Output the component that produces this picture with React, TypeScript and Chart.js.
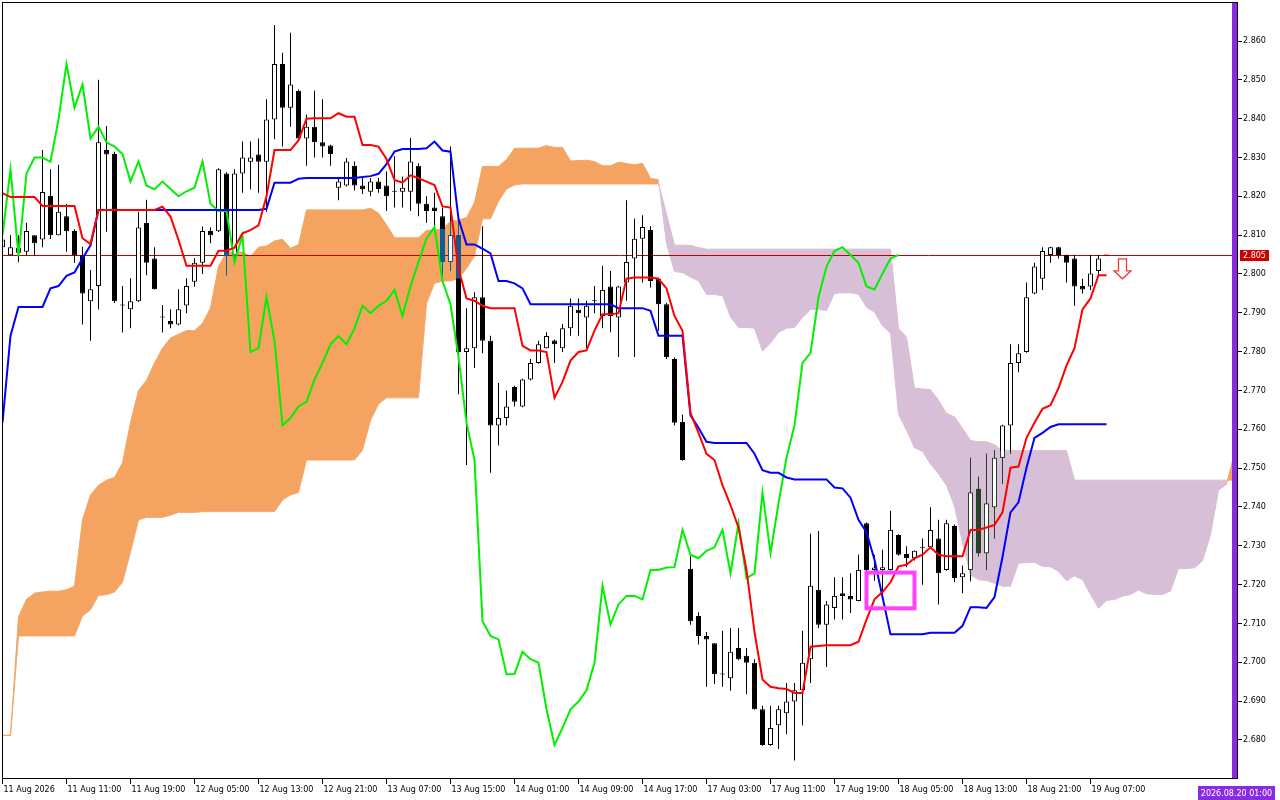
import React, { useEffect, useRef } from 'react';
import { Chart, registerables } from 'chart.js';

Chart.register(...registerables);

// ---- time axis (one label every 8 hourly bars) ----
const tickLabels = [
  '11 Aug 2026', '11 Aug 11:00', '11 Aug 19:00', '12 Aug 05:00', '12 Aug 13:00', '12 Aug 21:00',
  '13 Aug 07:00', '13 Aug 15:00', '14 Aug 01:00', '14 Aug 09:00', '14 Aug 17:00', '17 Aug 03:00',
  '17 Aug 11:00', '17 Aug 19:00', '18 Aug 05:00', '18 Aug 13:00', '18 Aug 21:00', '19 Aug 07:00',
];
const TICK_STEP = 8;
const priceTicks = [2.68, 2.69, 2.70, 2.71, 2.72, 2.73, 2.74, 2.75, 2.76, 2.77, 2.78, 2.79, 2.80, 2.81, 2.82, 2.83, 2.84, 2.85, 2.86];

// ---- candles ----
const opens = [
  2.8069, 2.8048, 2.8067, 2.8057, 2.8100, 2.8089, 2.8201, 2.8100, 2.8149, 2.8111,
  2.8048, 2.7930, 2.7969, 2.8319, 2.8309, 2.7920, 2.7909, 2.7930, 2.8131, 2.8040,
  2.7889, 2.7879, 2.7870, 2.7919, 2.7980, 2.8029, 2.8111, 2.8110, 2.8259, 2.8049,
  2.8259, 2.8289, 2.8308, 2.8289, 2.8398, 2.8541, 2.8428, 2.8471, 2.8349, 2.8379,
  2.8339, 2.8331, 2.8222, 2.8228, 2.8279, 2.8228, 2.8212, 2.8238, 2.8228, 2.8213,
  2.8212, 2.8212, 2.8279, 2.8181, 2.8171, 2.8149, 2.8031, 2.8100, 2.7799, 2.7809,
  2.7940, 2.7828, 2.7610, 2.7629, 2.7709, 2.7659, 2.7728, 2.7771, 2.7809, 2.7829,
  2.7809, 2.7860, 2.7908, 2.7888, 2.7931, 2.7892, 2.7968, 2.7888, 2.7978, 2.8040,
  2.8091, 2.8113, 2.7988, 2.7922, 2.7781, 2.7619, 2.7241, 2.7119, 2.7068, 2.7049,
  2.6970, 2.6959, 2.7037, 2.7017, 2.6999, 2.6879, 2.6787, 2.6838, 2.6869, 2.6899,
  2.6928, 2.7008, 2.7187, 2.7097, 2.7140, 2.7178, 2.7171, 2.7158, 2.7358, 2.7238,
  2.7238, 2.7238, 2.7328, 2.7279, 2.7268, 2.7296, 2.7296, 2.7319, 2.7238, 2.7351,
  2.7219, 2.7238, 2.7447, 2.7281, 2.7399, 2.7527, 2.7610, 2.7771, 2.7799, 2.7950,
  2.7988, 2.8049, 2.8069, 2.8049, 2.8040, 2.7969, 2.7968, 2.8008, 2.8049,
];
const highs = [
  2.8095, 2.8100, 2.8100, 2.8132, 2.8100, 2.8319, 2.8270, 2.8281, 2.8180, 2.8115,
  2.8070, 2.8010, 2.8500, 2.8381, 2.8315, 2.7969, 2.7989, 2.8160, 2.8191, 2.8069,
  2.7920, 2.7909, 2.7961, 2.7989, 2.8041, 2.8122, 2.8120, 2.8272, 2.8262, 2.8270,
  2.8341, 2.8341, 2.8349, 2.8450, 2.8641, 2.8570, 2.8621, 2.8475, 2.8411, 2.8472,
  2.8450, 2.8333, 2.8247, 2.8299, 2.8290, 2.8251, 2.8247, 2.8247, 2.8264, 2.8303,
  2.8251, 2.8350, 2.8285, 2.8200, 2.8209, 2.8171, 2.8328, 2.8136, 2.7912, 2.7953,
  2.8123, 2.7841, 2.7719, 2.7700, 2.7712, 2.7730, 2.7781, 2.7828, 2.7850, 2.7831,
  2.7871, 2.7937, 2.7937, 2.7931, 2.7969, 2.8021, 2.8008, 2.7970, 2.8190, 2.8142,
  2.8151, 2.8123, 2.7990, 2.7925, 2.7785, 2.7638, 2.7273, 2.7129, 2.7078, 2.7050,
  2.7081, 2.7088, 2.7088, 2.7037, 2.7008, 2.6888, 2.6888, 2.6888, 2.6947, 2.6947,
  2.7081, 2.7331, 2.7338, 2.7158, 2.7219, 2.7219, 2.7229, 2.7277, 2.7360, 2.7277,
  2.7290, 2.7390, 2.7330, 2.7299, 2.7288, 2.7319, 2.7399, 2.7367, 2.7367, 2.7355,
  2.7249, 2.7527, 2.7478, 2.7537, 2.7546, 2.7612, 2.7819, 2.7819, 2.7978, 2.8029,
  2.8069, 2.8070, 2.8070, 2.8050, 2.8049, 2.7988, 2.8049, 2.8049, 2.8049,
];
const lows = [
  2.8065, 2.8048, 2.8030, 2.8049, 2.8048, 2.8069, 2.8090, 2.8100, 2.8057, 2.8028,
  2.7870, 2.7828, 2.7909, 2.8109, 2.7925, 2.7849, 2.7860, 2.7928, 2.7997, 2.7960,
  2.7849, 2.7860, 2.7868, 2.7899, 2.7967, 2.8000, 2.8079, 2.8108, 2.7997, 2.8045,
  2.8209, 2.8218, 2.8209, 2.8160, 2.8347, 2.8328, 2.8379, 2.8345, 2.8279, 2.8300,
  2.8300, 2.8279, 2.8190, 2.8225, 2.8215, 2.8206, 2.8200, 2.8209, 2.8162, 2.8171,
  2.8171, 2.8162, 2.8149, 2.8132, 2.8123, 2.7995, 2.8008, 2.7690, 2.7508, 2.7758,
  2.7796, 2.7488, 2.7559, 2.7610, 2.7659, 2.7657, 2.7726, 2.7769, 2.7808, 2.7771,
  2.7799, 2.7841, 2.7841, 2.7809, 2.7899, 2.7860, 2.7850, 2.7786, 2.7931, 2.7786,
  2.7978, 2.7965, 2.7854, 2.7781, 2.7610, 2.7519, 2.7097, 2.7046, 2.6937, 2.6944,
  2.6937, 2.6927, 2.7005, 2.6918, 2.6878, 2.6785, 2.6785, 2.6777, 2.6815, 2.6747,
  2.6838, 2.6947, 2.7088, 2.6988, 2.7110, 2.7110, 2.7127, 2.7157, 2.7235, 2.7210,
  2.7174, 2.7236, 2.7275, 2.7245, 2.7262, 2.7200, 2.7295, 2.7149, 2.7236, 2.7206,
  2.7178, 2.7209, 2.7273, 2.7238, 2.7319, 2.7460, 2.7537, 2.7747, 2.7797, 2.7948,
  2.7959, 2.8029, 2.8040, 2.7978, 2.7918, 2.7950, 2.7959, 2.7997, 2.8049,
];
const closes = [
  2.8089, 2.8069, 2.8055, 2.8111, 2.8079, 2.8211, 2.8100, 2.8160, 2.8110, 2.8048,
  2.7950, 2.7961, 2.8339, 2.8308, 2.7930, 2.7920, 2.7930, 2.8120, 2.8029, 2.7961,
  2.7889, 2.7870, 2.7909, 2.7969, 2.8029, 2.8111, 2.8100, 2.8270, 2.8046, 2.8259,
  2.8300, 2.8300, 2.8289, 2.8398, 2.8541, 2.8428, 2.8488, 2.8349, 2.8379, 2.8339,
  2.8328, 2.8309, 2.8238, 2.8290, 2.8228, 2.8218, 2.8238, 2.8219, 2.8200, 2.8213,
  2.8222, 2.8290, 2.8181, 2.8162, 2.8162, 2.8031, 2.8100, 2.7799, 2.7809, 2.7940,
  2.7828, 2.7610, 2.7629, 2.7659, 2.7671, 2.7728, 2.7771, 2.7819, 2.7840, 2.7819,
  2.7860, 2.7918, 2.7899, 2.7918, 2.7931, 2.7959, 2.7892, 2.7968, 2.8031, 2.8091,
  2.8121, 2.7982, 2.7922, 2.7786, 2.7617, 2.7521, 2.7106, 2.7068, 2.7059, 2.6969,
  2.6970, 2.7027, 2.7008, 2.6999, 2.6879, 2.6787, 2.6831, 2.6879, 2.6899, 2.6928,
  2.6999, 2.7197, 2.7097, 2.7149, 2.7171, 2.7171, 2.7162, 2.7238, 2.7238, 2.7244,
  2.7245, 2.7341, 2.7277, 2.7268, 2.7287, 2.7296, 2.7341, 2.7229, 2.7358, 2.7217,
  2.7229, 2.7437, 2.7281, 2.7409, 2.7527, 2.7610, 2.7771, 2.7796, 2.7940, 2.8019,
  2.8059, 2.8069, 2.8049, 2.8029, 2.7968, 2.7960, 2.8001, 2.8040, 2.8049,
];

// ---- Ichimoku lines ----
const tenkan = [
  2.8208, 2.8198, 2.8198, 2.8198, 2.8198, 2.8175, 2.8175, 2.8175, 2.8175, 2.8175,
  2.8092, 2.8077, 2.8165, 2.8165, 2.8165, 2.8165, 2.8165, 2.8165, 2.8165, 2.8165,
  2.8173, 2.8148, 2.8088, 2.8021, 2.8021, 2.8021, 2.8021, 2.8060, 2.8060, 2.8068,
  2.8105, 2.8113, 2.8125, 2.8200, 2.8319, 2.8319, 2.8319, 2.8344, 2.8400, 2.8401,
  2.8401, 2.8401, 2.8414, 2.8405, 2.8405, 2.8332, 2.8332, 2.8328, 2.8296, 2.8242,
  2.8235, 2.8254, 2.8247, 2.8238, 2.8229, 2.8174, 2.8171, 2.8014, 2.7937, 2.7931,
  2.7918, 2.7912, 2.7912, 2.7912, 2.7912, 2.7815, 2.7803, 2.7803, 2.7799, 2.7681,
  2.7722, 2.7777, 2.7799, 2.7803, 2.7854, 2.7896, 2.7896, 2.7899, 2.7988, 2.7991,
  2.7991, 2.7991, 2.7988, 2.7963, 2.7892, 2.7854, 2.7642, 2.7591, 2.7537, 2.7521,
  2.7456, 2.7405, 2.7347, 2.7238, 2.7078, 2.6956, 2.6937, 2.6933, 2.6931, 2.6921,
  2.6921, 2.7040, 2.7042, 2.7044, 2.7044, 2.7044, 2.7044, 2.7053, 2.7110, 2.7162,
  2.7181, 2.7206, 2.7247, 2.7251, 2.7268, 2.7277, 2.7296, 2.7277, 2.7273, 2.7273,
  2.7273, 2.7341, 2.7341, 2.7347, 2.7354, 2.7386, 2.7501, 2.7504, 2.7578, 2.7617,
  2.7653, 2.7662, 2.7706, 2.7764, 2.7809, 2.7909, 2.7937, 2.7997, 2.7997,
];
const kijun = [
  2.7617, 2.7841, 2.7915, 2.7915, 2.7915, 2.7915, 2.7963, 2.7969, 2.7995, 2.8004,
  2.8040, 2.8074, 2.8165, 2.8165, 2.8165, 2.8165, 2.8165, 2.8165, 2.8165, 2.8165,
  2.8165, 2.8165, 2.8165, 2.8165, 2.8165, 2.8165, 2.8165, 2.8165, 2.8165, 2.8165,
  2.8165, 2.8165, 2.8165, 2.8168, 2.8235, 2.8235, 2.8235, 2.8245, 2.8247, 2.8247,
  2.8247, 2.8247, 2.8247, 2.8247, 2.8247, 2.8250, 2.8252, 2.8258, 2.8283, 2.8315,
  2.8322, 2.8322, 2.8322, 2.8324, 2.8341, 2.8318, 2.8315, 2.8142, 2.8076, 2.8076,
  2.8065, 2.8053, 2.7982, 2.7982, 2.7976, 2.7963, 2.7922, 2.7922, 2.7922, 2.7922,
  2.7922, 2.7922, 2.7922, 2.7922, 2.7922, 2.7922, 2.7922, 2.7912, 2.7912, 2.7912,
  2.7912, 2.7905, 2.7841, 2.7841, 2.7841, 2.7841, 2.7636, 2.7604, 2.7568, 2.7565,
  2.7565, 2.7565, 2.7565, 2.7565, 2.7537, 2.7495, 2.7488, 2.7488, 2.7476, 2.7471,
  2.7471, 2.7471, 2.7471, 2.7471, 2.7450, 2.7448, 2.7424, 2.7367, 2.7335, 2.7264,
  2.7168, 2.7072, 2.7072, 2.7072, 2.7072, 2.7072, 2.7076, 2.7076, 2.7076, 2.7076,
  2.7094, 2.7142, 2.7142, 2.7140, 2.7168, 2.7271, 2.7386, 2.7412, 2.7501, 2.7578,
  2.7591, 2.7606, 2.7613, 2.7613, 2.7613, 2.7613, 2.7613, 2.7613, 2.7613,
];
// Senkou Span A for the first 26 slots (its source bars lie before the visible window)
const senkouAEarly = [
  2.6812, 2.6812, 2.7117, 2.7162, 2.7178, 2.7181, 2.7183, 2.7183, 2.7187, 2.7196,
  2.7367, 2.7431, 2.7456, 2.7469, 2.7476, 2.7514, 2.7617, 2.7700, 2.7726, 2.7771,
  2.7809, 2.7835, 2.7845, 2.7854, 2.7854, 2.7873,
];
// Senkou Span B as plotted (already shifted 26 bars ahead)
const senkouB = [
  2.6812, 2.6812, 2.7068, 2.7068, 2.7068, 2.7068, 2.7068, 2.7068, 2.7068, 2.7068,
  2.7119, 2.7135, 2.7172, 2.7174, 2.7181, 2.7206, 2.7283, 2.7367, 2.7373, 2.7373,
  2.7373, 2.7379, 2.7386, 2.7386, 2.7386, 2.7388, 2.7388, 2.7388, 2.7388, 2.7388,
  2.7388, 2.7388, 2.7388, 2.7388, 2.7388, 2.7418, 2.7431, 2.7437, 2.7521, 2.7521,
  2.7521, 2.7521, 2.7521, 2.7521, 2.7521, 2.7546, 2.7623, 2.7665, 2.7681, 2.7681,
  2.7681, 2.7681, 2.7681, 2.7924, 2.7976, 2.7982, 2.7982, 2.7988, 2.8014, 2.8046,
  2.8142, 2.8142, 2.8187, 2.8219, 2.8229, 2.8232, 2.8232, 2.8232, 2.8232, 2.8232,
  2.8232, 2.8232, 2.8232, 2.8232, 2.8232, 2.8232, 2.8232, 2.8232, 2.8232, 2.8232,
  2.8232, 2.8232, 2.8232, 2.8155, 2.8074, 2.8074, 2.8074, 2.8068, 2.8064, 2.8064,
  2.8064, 2.8064, 2.8064, 2.8064, 2.8064, 2.8064, 2.8064, 2.8064, 2.8064, 2.8064,
  2.8064, 2.8064, 2.8064, 2.8064, 2.8064, 2.8064, 2.8064, 2.8064, 2.8064, 2.8064,
  2.8064, 2.8064, 2.7860, 2.7837, 2.7706, 2.7704, 2.7702, 2.7675, 2.7641, 2.7632,
  2.7603, 2.7571, 2.7568, 2.7568, 2.7560, 2.7545, 2.7545, 2.7545, 2.7545, 2.7545,
  2.7545, 2.7545, 2.7545, 2.7545, 2.7469, 2.7469, 2.7469, 2.7469, 2.7469, 2.7469,
  2.7469, 2.7469, 2.7469, 2.7469, 2.7469, 2.7469, 2.7469, 2.7469, 2.7469, 2.7469,
  2.7469, 2.7469, 2.7469, 2.7469, 2.7469, 2.7469,
];
const ICHIMOKU_SHIFT = 26;

// ---- objects on the chart ----
const bidPrice = 2.805;
const boxBars = [108, 114];
const boxPrices = [2.7139, 2.7231];
const arrowBar = 140;
const arrowPrice = 2.8039;
const vlineBar = 154;
const vlineLabel = '2026.08.20 01:00';

// ---- derived tables (Ichimoku definitions) ----
// Chikou = close plotted 26 bars back; Span A = mean of Tenkan & Kijun plotted 26 bars ahead
const chikou = closes.slice(ICHIMOKU_SHIFT);
const senkouA = senkouB.map((_, i) =>
  i < ICHIMOKU_SHIFT ? senkouAEarly[i] : (tenkan[i - ICHIMOKU_SHIFT] + kijun[i - ICHIMOKU_SHIFT]) / 2
);

const SANDY = '#f4a460';
const THISTLE = '#d8bfd8';
const FONT = { family: 'DejaVu Sans', size: 8 };
const FONT_STR = '8px "DejaVu Sans"';

function buildConfig() {
  const pts = (arr: number[], off = 0) => arr.map((v, i) => ({ x: i + off, y: v }));

  const bodies = opens.map((o, i) => {
    const c = closes[i];
    const bull = c - o > 0.0002;
    let lo = Math.min(o, c);
    let hi = Math.max(o, c);
    if (hi - lo < 0.00026) {
      const m = (hi + lo) / 2;
      lo = m - 0.00013;
      hi = m + 0.00013;
    }
    return { x: i, y: [lo, hi], bull };
  });
  const wicks = opens.map((_, i) => ({ x: i, y: [lows[i], highs[i]] }));

  // parts of candles lying inside the cloud are drawn in the inverted colour, as in the terminal
  const tint = (i: number) => (senkouA[i] >= senkouB[i] ? 'rgb(11,91,159)' : 'rgb(39,64,39)');
  const wickTints: any[] = [];
  const bodyTints: any[] = [];
  opens.forEach((_, i) => {
    const cLo = Math.min(senkouA[i], senkouB[i]);
    const cHi = Math.max(senkouA[i], senkouB[i]);
    const wl = Math.max(lows[i], cLo);
    const wh = Math.min(highs[i], cHi);
    if (wh > wl) wickTints.push({ x: i, y: [wl, wh], color: tint(i) });
    const b = bodies[i];
    const bl = Math.max(b.y[0], cLo);
    const bh = Math.min(b.y[1], cHi);
    if (bh > bl) {
      bodyTints.push({ x: i, y: [bl, bh], color: tint(i), bull: b.bull, top: bh >= b.y[1], bottom: bl <= b.y[0] });
    }
  });

  const segColor = (ctx: any) => {
    const i = ctx.p0DataIndex;
    const j = ctx.p1DataIndex;
    return senkouA[i] + senkouA[j] >= senkouB[i] + senkouB[j] ? SANDY : THISTLE;
  };

  const lineBase = { type: 'line', pointRadius: 0, pointHoverRadius: 0, tension: 0, clip: 0, fill: false };
  const barBase = { type: 'bar', grouped: false, clip: 0, inflateAmount: 0, borderSkipped: false };

  const overlays = {
    id: 'mtObjects',
    beforeDatasetDraw(chart: any, args: any) {
      if (args.index !== 6) return; // right before the wicks: bid line over the cloud, under candles
      const { ctx, chartArea: a, scales } = chart;
      const y = Math.round(scales.y.getPixelForValue(bidPrice)) + 0.5;
      ctx.save();
      ctx.strokeStyle = '#c00000';
      ctx.lineWidth = 1;
      ctx.beginPath();
      ctx.moveTo(a.left, y);
      ctx.lineTo(a.right, y);
      ctx.stroke();
      ctx.restore();
    },
    afterDatasetsDraw(chart: any) {
      const { ctx, chartArea: a, scales } = chart;
      const xs = scales.x;
      const ys = scales.y;
      ctx.save();
      ctx.beginPath();
      ctx.rect(a.left, a.top, a.right - a.left, a.bottom - a.top);
      ctx.clip();
      // rectangle object
      const x0 = xs.getPixelForValue(boxBars[0]);
      const x1 = xs.getPixelForValue(boxBars[1]);
      const y0 = ys.getPixelForValue(boxPrices[1]);
      const y1 = ys.getPixelForValue(boxPrices[0]);
      ctx.strokeStyle = '#ff40ff';
      ctx.lineWidth = 4;
      ctx.strokeRect(x0, y0, x1 - x0, y1 - y0);
      // down arrow object
      const ax = xs.getPixelForValue(arrowBar);
      const ay = ys.getPixelForValue(arrowPrice);
      ctx.beginPath();
      ctx.moveTo(ax - 4, ay);
      ctx.lineTo(ax + 4, ay);
      ctx.lineTo(ax + 4, ay + 12);
      ctx.lineTo(ax + 8.5, ay + 12);
      ctx.lineTo(ax, ay + 20);
      ctx.lineTo(ax - 8.5, ay + 12);
      ctx.lineTo(ax - 4, ay + 12);
      ctx.closePath();
      ctx.fillStyle = '#fff';
      ctx.fill();
      ctx.strokeStyle = '#f03a3a';
      ctx.lineWidth = 1.3;
      ctx.stroke();
      // vertical line object
      const vx = xs.getPixelForValue(vlineBar);
      ctx.fillStyle = '#8a2be2';
      ctx.fillRect(Math.round(vx - 2.5), a.top, 5, a.bottom - a.top);
      ctx.restore();
    },
    afterDraw(chart: any) {
      const { ctx, chartArea: a, scales } = chart;
      ctx.save();
      ctx.strokeStyle = '#000';
      ctx.lineWidth = 1;
      ctx.strokeRect(a.left + 0.5, a.top + 0.5, a.right - a.left, a.bottom - a.top);
      ctx.font = FONT_STR;
      ctx.textBaseline = 'middle';
      // bid price tag
      const by = Math.round(scales.y.getPixelForValue(bidPrice));
      ctx.fillStyle = '#cc0000';
      ctx.fillRect(a.right + 3, by - 5, 29, 11);
      ctx.fillStyle = '#fff';
      ctx.textAlign = 'left';
      ctx.fillText(bidPrice.toFixed(3), a.right + 6, by + 0.5);
      // vertical line time tag
      const vx = scales.x.getPixelForValue(vlineBar);
      const w = ctx.measureText(vlineLabel).width + 6;
      ctx.fillStyle = '#8a2be2';
      ctx.fillRect(Math.round(vx + 2 - w / 2), a.bottom + 8, Math.round(w), 14);
      ctx.fillStyle = '#fff';
      ctx.textAlign = 'center';
      ctx.fillText(vlineLabel, vx + 2, a.bottom + 15.5);
      ctx.restore();
    },
  };

  return {
    type: 'line',
    data: {
      datasets: [
        { ...lineBase, label: 'Tenkan-sen', data: pts(tenkan), borderColor: '#ff0000', borderWidth: 2, order: 1 },
        { ...lineBase, label: 'Kijun-sen', data: pts(kijun), borderColor: '#0000ff', borderWidth: 2, order: 2 },
        { ...lineBase, label: 'Chikou Span', data: pts(chikou), borderColor: '#00f000', borderWidth: 2, order: 3 },
        {
          ...barBase, label: 'bodyTint', data: bodyTints, barThickness: 5, order: 4,
          backgroundColor: (c: any) => (c.raw ? (c.raw.bull ? '#ffffff' : c.raw.color) : '#000'),
          borderColor: (c: any) => (c.raw ? c.raw.color : '#000'),
          borderWidth: (c: any) => (c.raw ? { left: 1, right: 1, top: c.raw.top ? 1 : 0, bottom: c.raw.bottom ? 1 : 0 } : 0),
        },
        {
          ...barBase, label: 'body', data: bodies, barThickness: 5, order: 5,
          backgroundColor: (c: any) => (c.raw && c.raw.bull ? '#ffffff' : '#000000'),
          borderColor: '#000000', borderWidth: 1,
        },
        {
          ...barBase, label: 'wickTint', data: wickTints, barThickness: 1, order: 6,
          backgroundColor: (c: any) => (c.raw ? c.raw.color : '#000'), borderWidth: 0,
        },
        { ...barBase, label: 'wick', data: wicks, barThickness: 1, order: 7, backgroundColor: '#000000', borderWidth: 0 },
        {
          ...lineBase, label: 'Senkou Span A', data: pts(senkouA), borderWidth: 1, order: 8,
          borderColor: SANDY, segment: { borderColor: segColor },
          fill: { target: 8, above: SANDY, below: THISTLE },
        },
        {
          ...lineBase, label: 'Senkou Span B', data: pts(senkouB), borderWidth: 1, order: 9,
          borderColor: THISTLE, segment: { borderColor: segColor },
        },
      ],
    },
    options: {
      animation: false,
      responsive: false,
      maintainAspectRatio: false,
      devicePixelRatio: 1,
      events: [],
      layout: { padding: { left: 2, top: 2, right: 0, bottom: 0 } },
      plugins: { legend: { display: false }, tooltip: { enabled: false } },
      scales: {
        x: {
          type: 'linear',
          position: 'bottom',
          min: -0.0625,
          max: 154.3125,
          bounds: 'data',
          offset: false,
          afterBuildTicks: (s: any) => {
            s.ticks = tickLabels.map((_, k) => ({ value: k * TICK_STEP }));
          },
          afterFit: (s: any) => {
            s.height = 22;
            s.paddingLeft = 0;
            s.paddingRight = 0;
          },
          ticks: {
            callback: (_v: any, idx: number) => tickLabels[idx],
            align: 'start',
            labelOffset: 1,
            padding: 1,
            autoSkip: false,
            maxRotation: 0,
            minRotation: 0,
            color: '#000',
            font: FONT,
          },
          grid: {
            display: true, offset: false, drawOnChartArea: false, drawTicks: true,
            tickLength: 6, color: '#000', tickColor: '#000',
          },
          border: { display: false },
        },
        y: {
          type: 'linear',
          position: 'right',
          min: 2.670203,
          max: 2.870044,
          bounds: 'data',
          offset: false,
          afterBuildTicks: (s: any) => {
            s.ticks = priceTicks.map((v) => ({ value: v }));
          },
          afterFit: (s: any) => {
            s.width = 43;
            s.paddingTop = 0;
            s.paddingBottom = 0;
          },
          ticks: {
            callback: (v: any) => Number(v).toFixed(3),
            padding: 1,
            color: '#000',
            font: FONT,
          },
          grid: {
            display: true, offset: false, drawOnChartArea: false, drawTicks: true,
            tickLength: 5, color: '#000', tickColor: '#000',
          },
          border: { display: false },
        },
      },
    },
    plugins: [overlays],
  };
}

export default function App() {
  const ref = useRef<HTMLCanvasElement>(null);
  useEffect(() => {
    if (!ref.current) return;
    const chart = new Chart(ref.current, buildConfig() as any);
    return () => chart.destroy();
  }, []);
  return (
    <div style={{ position: 'fixed', left: 0, top: 0, width: 1280, height: 800, background: '#ffffff' }}>
      <canvas ref={ref} width={1280} height={800} style={{ display: 'block', width: 1280, height: 800 }} />
    </div>
  );
}
